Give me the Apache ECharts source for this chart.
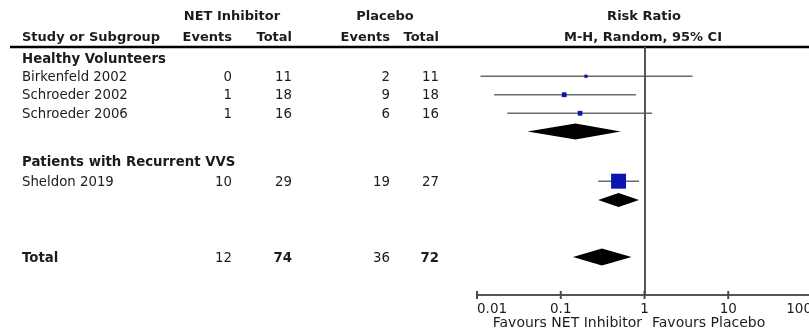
<!DOCTYPE html>
<html>
<head>
<meta charset="utf-8">
<script src="https://cdn.jsdelivr.net/npm/echarts@6/dist/echarts.min.js"></script>
<style>
  html, body { margin: 0; padding: 0; background: #fff; }
  #chart { width: 809px; height: 333px; }
</style>
</head>
<body>
<div id="chart"></div>
<script>
// ---- study data ----
const studies      = ['Birkenfeld 2002', 'Schroeder 2002', 'Schroeder 2006', 'Sheldon 2019'];
const netEvents    = [0, 1, 1, 10];
const netTotal     = [11, 18, 16, 29];
const placeboEvents = [2, 9, 6, 19];
const placeboTotal = [11, 18, 16, 27];
const studyRR      = [0.20, 0.11, 0.17, 0.49];
const studyLow     = [0.011, 0.016, 0.023, 0.28];
const studyHigh    = [3.74, 0.79, 1.23, 0.86];
const studyWeight  = [3.7, 8.2, 7.9, 80.2];   // % weight, sets square area

// ---- subgroup and overall pooled estimates ----
const subgroups    = ['Healthy Volunteers', 'Patients with Recurrent VVS'];
const subgroupRR   = [0.15, 0.49];
const subgroupLow  = [0.04, 0.28];
const subgroupHigh = [0.52, 0.86];
const totalNetEvents = 12, totalNetTotal = 74;
const totalPlaceboEvents = 36, totalPlaceboTotal = 72;
const totalRR = 0.31, totalLow = 0.14, totalHigh = 0.70;

// ---- axis ----
const tickValues = [0.01, 0.1, 1, 10, 100];
const tickLabels = ['0.01', '0.1', '1', '10', '100'];

// ---- layout (row positions in row units, column anchors in px) ----
const subgroupRow = [0.6, 6.2];
const studyRow    = [1.58, 2.58, 3.58, 7.25];
const subDiamondRow = [4.57, 8.27];
const totalRow    = 11.35;
const ROWS_MAX    = 13.4;
const colName = 22, colNetEv = 232, colNetTot = 292, colPlEv = 390, colPlTot = 439;

const FONT = '"DejaVu Sans", "Lucida Grande", Verdana, sans-serif';
const TXT = '#1c1c1c';
const BODY = '13.3px ';
const AXIS = '#555555';

// table cells
const cells = [];
subgroups.forEach((g, i) => cells.push({ x: colName, row: subgroupRow[i], text: g, align: 'left', bold: true }));
studies.forEach((s, i) => {
  const r = studyRow[i];
  cells.push({ x: colName, row: r, text: s, align: 'left' });
  cells.push({ x: colNetEv, row: r, text: String(netEvents[i]), align: 'right' });
  cells.push({ x: colNetTot, row: r, text: String(netTotal[i]), align: 'right' });
  cells.push({ x: colPlEv, row: r, text: String(placeboEvents[i]), align: 'right' });
  cells.push({ x: colPlTot, row: r, text: String(placeboTotal[i]), align: 'right' });
});
cells.push({ x: colName, row: totalRow, text: 'Total', align: 'left', bold: true });
cells.push({ x: colNetEv, row: totalRow, text: String(totalNetEvents), align: 'right' });
cells.push({ x: colNetTot, row: totalRow, text: String(totalNetTotal), align: 'right', bold: true });
cells.push({ x: colPlEv, row: totalRow, text: String(totalPlaceboEvents), align: 'right' });
cells.push({ x: colPlTot, row: totalRow, text: String(totalPlaceboTotal), align: 'right', bold: true });

const studyData = studies.map((s, i) => [studyRow[i], studyRR[i], studyLow[i], studyHigh[i], studyWeight[i]]);
const diamondData = subgroups.map((g, i) => [subDiamondRow[i], subgroupRR[i], subgroupLow[i], subgroupHigh[i], i === 0 ? 16 : 14])
  .concat([[totalRow, totalRR, totalLow, totalHigh, 17]]);

function headerText(x, y, text, align) {
  return { type: 'text', x: x, y: y, style: { text: text, font: 'bold 13px ' + FONT, fill: TXT, align: align, verticalAlign: 'middle' } };
}

const chart = echarts.init(document.getElementById('chart'), null, { renderer: 'canvas' });

chart.setOption({
  animation: false,
  backgroundColor: '#fff',
  grid: [
    { left: 477, width: 335, top: 47, height: 248, containLabel: false, outerBoundsMode: 'none' },
    { left: 0, width: 809, top: 47, height: 248, containLabel: false, outerBoundsMode: 'none' }
  ],
  xAxis: [
    {
      type: 'log', logBase: 10, min: 0.01, max: 100, gridIndex: 0, position: 'bottom',
      axisLine: { show: true, onZero: false, lineStyle: { color: AXIS, width: 2 } },
      axisTick: { show: false },
      axisLabel: {
        margin: 7, fontSize: 13.5, fontFamily: FONT, color: TXT,
        alignMinLabel: 'left', alignMaxLabel: 'right', showMinLabel: true, showMaxLabel: true,
        formatter: (v, i) => tickLabels[i]
      },
      splitLine: { show: false }, minorTick: { show: false }
    },
    { type: 'value', min: 0, max: 809, gridIndex: 1, show: false, axisLine: { onZero: false } }
  ],
  yAxis: [
    { type: 'value', min: 0, max: ROWS_MAX, inverse: true, gridIndex: 0, show: false, axisLine: { onZero: false } },
    { type: 'value', min: 0, max: ROWS_MAX, inverse: true, gridIndex: 1, show: false, axisLine: { onZero: false } }
  ],
  series: [
    {
      // study effect sizes with 95% CI
      type: 'custom', xAxisIndex: 0, yAxisIndex: 0, z: 3,
      data: studyData,
      encode: { x: [1, 2, 3], y: 0 },
      renderItem: function (params, api) {
        const row = api.value(0);
        const c = api.coord([api.value(1), row]);
        const lo = api.coord([api.value(2), row])[0];
        const hi = api.coord([api.value(3), row])[0];
        const s = Math.sqrt(api.value(4)) * 1.67;
        return {
          type: 'group', children: [
            { type: 'line', shape: { x1: lo, y1: c[1], x2: hi, y2: c[1] }, style: { stroke: '#6a6a6a', lineWidth: 1.5 } },
            { type: 'rect', shape: { x: c[0] - s / 2, y: c[1] - s / 2, width: s, height: s }, style: { fill: '#0c14b0' } }
          ]
        };
      },
      markLine: {
        silent: true, symbol: ['none', 'none'], label: { show: false },
        lineStyle: { color: AXIS, width: 2, type: 'solid' },
        data: [{ xAxis: 1 }]
      }
    },
    {
      // tick marks crossing the risk-ratio axis
      type: 'custom', xAxisIndex: 0, yAxisIndex: 0, z: 6, clip: false,
      data: tickValues.map(v => [v, ROWS_MAX]),
      encode: { x: 0, y: 1 },
      renderItem: function (params, api) {
        const p = api.coord([api.value(0), api.value(1)]);
        return {
          type: 'rect', z2: 10,
          shape: { x: p[0] - 1, y: p[1] - 4, width: 2, height: 8 },
          style: { fill: '#4a4a4a' }
        };
      }
    },
    {
      // pooled estimates (diamonds)
      type: 'custom', xAxisIndex: 0, yAxisIndex: 0, z: 3,
      data: diamondData,
      encode: { x: [1, 2, 3], y: 0 },
      renderItem: function (params, api) {
        const row = api.value(0);
        const c = api.coord([api.value(1), row]);
        const lo = api.coord([api.value(2), row])[0];
        const hi = api.coord([api.value(3), row])[0];
        const h = api.value(4) / 2;
        return {
          type: 'polygon',
          shape: { points: [[lo, c[1]], [c[0], c[1] - h], [hi, c[1]], [c[0], c[1] + h]] },
          style: { fill: '#000' }
        };
      }
    },
    {
      // table text
      type: 'custom', xAxisIndex: 1, yAxisIndex: 1, z: 4,
      data: cells.map(c => [c.x, c.row]),
      renderItem: function (params, api) {
        const c = cells[params.dataIndex];
        const p = api.coord([c.x, c.row]);
        return {
          type: 'text', x: p[0], y: p[1] + 1,
          style: {
            text: c.text, align: c.align, verticalAlign: 'middle',
            font: (c.bold ? 'bold ' : '') + BODY + FONT, fill: TXT
          }
        };
      }
    }
  ],
  graphic: [
    headerText(232, 17, 'NET Inhibitor', 'center'),
    headerText(385, 17, 'Placebo', 'center'),
    headerText(644, 17, 'Risk Ratio', 'center'),
    headerText(colName, 38, 'Study or Subgroup', 'left'),
    headerText(colNetEv, 38, 'Events', 'right'),
    headerText(colNetTot, 38, 'Total', 'right'),
    headerText(colPlEv, 38, 'Events', 'right'),
    headerText(colPlTot, 38, 'Total', 'right'),
    headerText(643, 38, 'M-H, Random, 95% CI', 'center'),
    { type: 'line', shape: { x1: 10, y1: 47, x2: 809, y2: 47 }, style: { stroke: '#000', lineWidth: 2.5 } },
    { type: 'text', x: 642, y: 323, style: { text: 'Favours NET Inhibitor', font: '14px ' + FONT, fill: TXT, align: 'right', verticalAlign: 'middle' } },
    { type: 'text', x: 652, y: 323, style: { text: 'Favours Placebo', font: '14px ' + FONT, fill: TXT, align: 'left', verticalAlign: 'middle' } }
  ]
});
</script>
</body>
</html>
